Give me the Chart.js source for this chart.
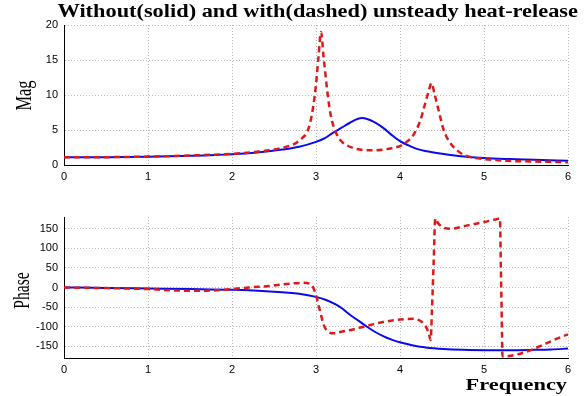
<!DOCTYPE html>
<html>
<head>
<meta charset="utf-8">
<script src="https://cdn.jsdelivr.net/npm/chart.js@4.4.0/dist/chart.umd.min.js"></script>
<style>
  body { margin: 0; background: #fff; width: 585px; height: 396px; position: relative; overflow: hidden; }
  .box { position: absolute; left: 0; width: 585px; }
  .lbl { position: absolute; font-family: "Liberation Serif", "Times New Roman", serif; color: #000;
         white-space: nowrap; line-height: 1; }
</style>
</head>
<body>
<div class="box" style="top:0;height:190px"><canvas id="mag"></canvas></div>
<div class="box" style="top:190px;height:206px"><canvas id="phase"></canvas></div>
<div id="title" class="lbl" style="font-size:18px;font-weight:bold">Without(solid) and with(dashed) unsteady heat-release</div>
<div id="ylab1" class="lbl" style="font-size:17px">Mag</div>
<div id="ylab2" class="lbl" style="font-size:17px">Phase</div>
<div id="xlab" class="lbl" style="font-size:16px;font-weight:bold">Frequency</div>
<script>
// tick labels
var freqTicks = [0, 1, 2, 3, 4, 5, 6];
var magTicks = [0, 5, 10, 15, 20];
var phaseTicks = [-150, -100, -50, 0, 50, 100, 150];

// magnitude, without heat-release (solid blue)
var magFreqSolid = [0, 0.5, 1, 1.5, 2, 2.3, 2.6, 2.8, 3.0, 3.1, 3.2, 3.3, 3.4, 3.5, 3.55, 3.6, 3.7, 3.8, 3.9, 4.0, 4.1, 4.2, 4.3, 4.5, 4.7, 5.0, 5.3, 5.6, 6.0];
var magSolid     = [1.1, 1.12, 1.18, 1.32, 1.55, 1.8, 2.2, 2.6, 3.3, 3.8, 4.6, 5.3, 6.0, 6.6, 6.7, 6.6, 6.1, 5.3, 4.3, 3.4, 2.8, 2.3, 2.0, 1.6, 1.3, 1.0, 0.85, 0.75, 0.6];

// magnitude, with heat-release (dashed red)
var magFreqDashed = [0, 0.5, 1, 1.5, 2, 2.3, 2.5, 2.61, 2.7, 2.77, 2.84, 2.89, 2.93, 2.97, 3.0, 3.03, 3.06, 3.09, 3.13, 3.16, 3.19, 3.25, 3.31, 3.37, 3.45, 3.52, 3.6, 3.7, 3.8, 3.9, 4.0, 4.08, 4.16, 4.24, 4.3, 4.34, 4.375, 4.41, 4.46, 4.52, 4.6, 4.68, 4.75, 4.85, 5.0, 5.27, 5.6, 6.0];
var magDashed     = [1.1, 1.12, 1.2, 1.35, 1.6, 1.9, 2.2, 2.5, 2.8, 3.2, 3.9, 4.6, 6.0, 8.6, 11.5, 15.5, 19.0, 15.5, 11.0, 8.2, 6.3, 4.3, 3.3, 2.8, 2.4, 2.2, 2.1, 2.1, 2.2, 2.4, 2.7, 3.3, 4.3, 6.3, 8.8, 10.5, 11.7, 10.2, 7.8, 5.0, 3.1, 2.1, 1.5, 1.1, 0.85, 0.6, 0.5, 0.4];

// phase, without heat-release
var phaseFreqSolid = [0, 0.5, 1, 1.5, 2, 2.45, 2.8, 3.0, 3.12, 3.24, 3.32, 3.4, 3.5, 3.6, 3.7, 3.8, 3.9, 4.0, 4.12, 4.24, 4.4, 4.52, 4.75, 5.0, 5.3, 5.6, 5.8, 6.0];
var phaseSolid     = [0, -1, -2.5, -4, -6, -10, -16, -24, -32, -44, -55, -69, -84, -99, -113, -124, -133, -140, -146, -151, -155, -157, -159, -160, -160, -159, -158, -156];

// phase, with heat-release
var phaseFreqDashed = [0, 0.5, 1, 1.4, 1.7, 2, 2.2, 2.45, 2.7, 2.85, 2.92, 2.96, 3.0, 3.03, 3.06, 3.09, 3.13, 3.21, 3.3, 3.44, 3.64, 3.8, 4.0, 4.16, 4.24, 4.3, 4.34, 4.365, 4.38, 4.4, 4.42, 4.45, 4.5, 4.6, 4.79, 5.0, 5.16, 5.19, 5.2, 5.21, 5.22, 6.0];
var phaseDashed     = [0, -1.5, -4, -8, -8, -4, 0, 4, 10, 12, 10, 3, -20, -45, -70, -95, -110, -117, -113, -107, -96, -88, -82, -80, -85, -97, -115, -134, -60, 60, 176, 165, 155, 150, 158, 167, 175, 176, 60, -60, -176, -120];

var blue = "#0a0aef";
var red = "#dc1a1a";
var tickFont = { family: "Liberation Sans", size: 11 };

function pts(xs, ys) {
  return xs.map(function (x, i) { return { x: x, y: ys[i] }; });
}

function fixTicks(vals) {
  return function (s) { s.ticks = vals.map(function (v) { return { value: v }; }); };
}

function makeChart(id, solid, dashed, yMin, yMax, yTicks, padTop, xHeight) {
  return new Chart(document.getElementById(id), {
    type: "line",
    data: {
      datasets: [
        { data: solid, borderColor: blue, borderWidth: 2, pointRadius: 0, cubicInterpolationMode: "monotone", order: 1 },
        { data: dashed, borderColor: red, borderWidth: 2.5, borderDash: [6, 4], pointRadius: 0, cubicInterpolationMode: "monotone", order: 0 }
      ]
    },
    options: {
      responsive: true,
      maintainAspectRatio: false,
      animation: false,
      layout: { padding: { top: padTop, right: 17, left: 0, bottom: 0 } },
      plugins: { legend: { display: false }, tooltip: { enabled: false } },
      scales: {
        x: {
          type: "linear", min: 0, max: 6,
          afterBuildTicks: fixTicks(freqTicks),
          ticks: { padding: 5, color: "#000", font: tickFont },
          grid: { color: "#b8b8b8", drawTicks: false },
          border: { display: true, color: "#000", width: 1, dash: [1, 2] },
          afterFit: function (s) { s.height = xHeight; }
        },
        y: {
          min: yMin, max: yMax,
          afterBuildTicks: fixTicks(yTicks),
          ticks: { padding: 6, color: "#000", font: tickFont },
          grid: { color: "#b8b8b8", drawTicks: false },
          border: { display: true, color: "#000", width: 1, dash: [1, 2] },
          afterFit: function (s) { s.width = 64; }
        }
      }
    }
  });
}

makeChart("mag", pts(magFreqSolid, magSolid), pts(magFreqDashed, magDashed), 0, 20, magTicks, 25, 25);
makeChart("phase", pts(phaseFreqSolid, phaseSolid), pts(phaseFreqDashed, phaseDashed), -180, 180, phaseTicks, 27, 38);

// stretched labels, like the original figure
function place(id, cx, cy, target, rotate, thick) {
  var el = document.getElementById(id);
  var w = el.offsetWidth;
  el.style.left = (cx - w / 2) + "px";
  el.style.top = (cy - el.offsetHeight / 2) + "px";
  if (rotate) {
    el.style.transform = "rotate(-90deg) scale(" + (target / w) + "," + thick + ")";
  } else {
    el.style.transform = "scaleX(" + (target / w) + ")";
  }
}
place("title", 317, 11, 520, false);
place("ylab1", 23, 95, 30, true, 1.35);
place("ylab2", 22, 290, 37, true, 1.35);
place("xlab", 516, 385, 102, false);
</script>
</body>
</html>
